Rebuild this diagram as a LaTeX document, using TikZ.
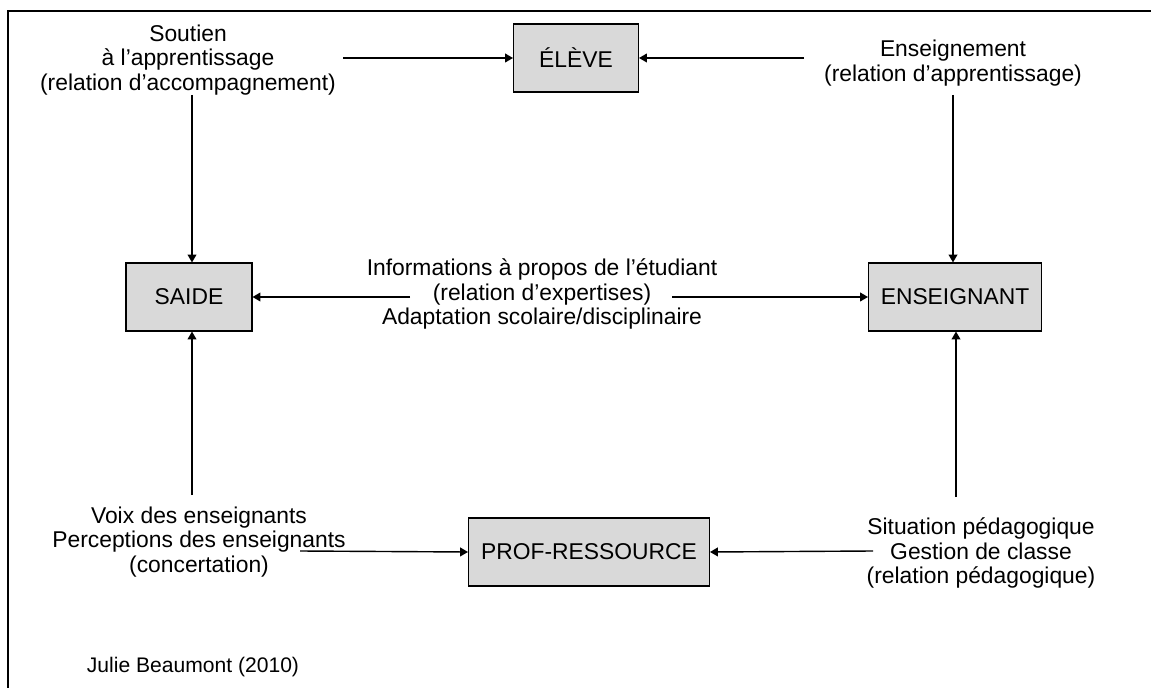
\documentclass[tikz,border=0pt]{standalone}
\usepackage{fontspec}
\setmainfont{Liberation Sans}
\usetikzlibrary{arrows.meta}
\definecolor{boxgray}{HTML}{D9D9D9}
\tikzset{
  box/.style={draw,line width=0.6pt,fill=boxgray,minimum height=1.36cm,inner sep=0pt},
  lbl/.style={align=center,inner sep=0pt},
  link/.style={line width=0.8pt,-{Triangle[length=4.5pt,width=5pt]}}
}
\begin{document}
\begin{tikzpicture}[x=0.02cm,y=-0.02cm,font=\fontsize{13}{14}\selectfont]
      \useasboundingbox (0,0) rectangle (1151,688);
      \draw[line width=1.1pt] (8,688) -- (8,11) -- (1151,11);
      % boxes
      \node[box,minimum width=2.5cm] (eleve) at (576,58) {ÉLÈVE};
      \node[box,minimum width=2.52cm] (saide) at (189,297) {SAIDE};
      \node[box,minimum width=3.46cm] (enseignant) at (955,297) {ENSEIGNANT};
      \node[box,minimum width=4.82cm] (prof) at (589,552) {PROF-RESSOURCE};
      % labels
      \node[lbl] (soutien) at (188,60) {Soutien\\à l’apprentissage\\(relation d’accompagnement)};
      \node[lbl] (ensgmt) at (953,63) {Enseignement\\(relation d’apprentissage)};
      \node[lbl] (infos) at (542,294) {Informations à propos de l’étudiant\\(relation d’expertises)\\Adaptation scolaire/disciplinaire};
      \node[lbl] (voix) at (199,542) {Voix des enseignants\\Perceptions des enseignants\\(concertation)};
      \node[lbl] (situation) at (981,553) {Situation pédagogique\\Gestion de classe\\(relation pédagogique)};
      \node[lbl,font=\fontsize{12}{14}\selectfont] (source) at (193,667) {Julie Beaumont (2010)};
      % free ends
      \coordinate (a1) at (343,58);
      \coordinate (a2) at (804,58);
      \coordinate (a3) at (192,95);
      \coordinate (a4) at (953,95);
      \coordinate (a5) at (410,297);
      \coordinate (a6) at (672,297);
      \coordinate (a7) at (192,495);
      \coordinate (a8) at (956,497);
      \coordinate (a9) at (300,551);
      \coordinate (a10) at (873,551);
      \begin{scope}[link]
        \draw (a1) to (eleve.west);
        \draw (a2) to (eleve.east);
        \draw (a3) to (a3 |- saide.north);
        \draw (a4) to (a4 |- enseignant.north);
        \draw (a5) to (saide.east);
        \draw (a6) to (enseignant.west);
        \draw (a7) to (a7 |- saide.south);
        \draw (a8) to (a8 |- enseignant.south);
        \draw (a9) to (prof.west);
        \draw (a10) to (prof.east);
      \end{scope}
    \end{tikzpicture}
\end{document}
